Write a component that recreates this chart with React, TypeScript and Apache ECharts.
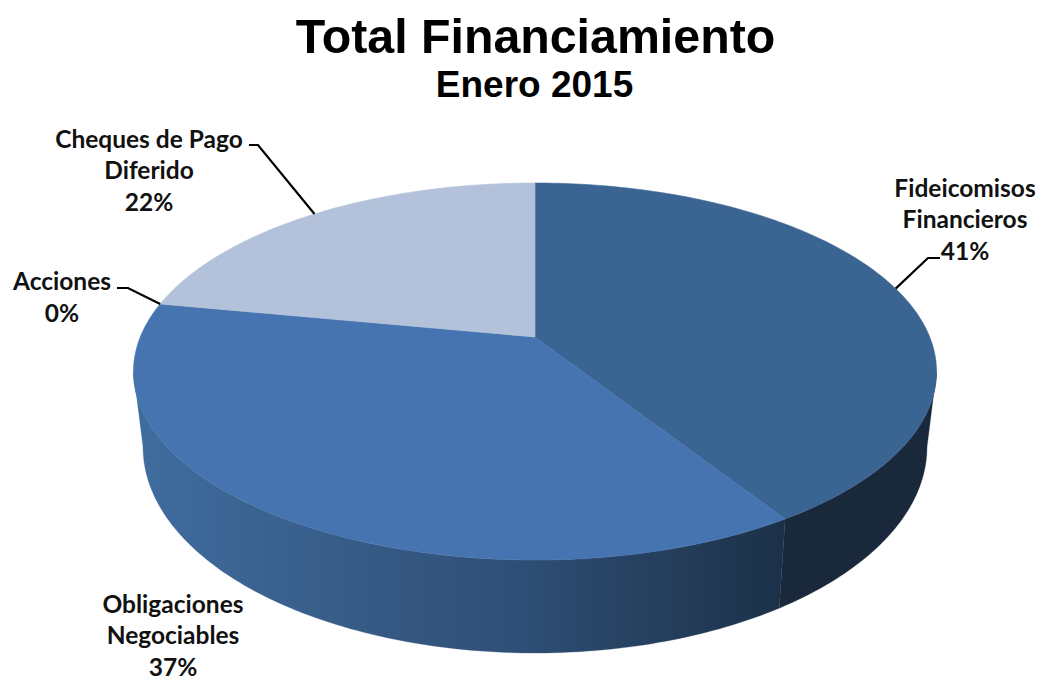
import React, { useEffect, useRef } from "react";
import * as echarts from "echarts";

// Data
const sliceNames = ["Fideicomisos\nFinancieros", "Obligaciones\nNegociables", "Acciones", "Cheques de Pago\nDiferido"];
const sliceValues = [41, 37, 0, 22];
const titleText = "Total Financiamiento";
const subtitleText = "Enero 2015";

// Styling and geometry of the 3D projection
const topColors = ["#3a6492", "#4674b0", "#4674b0", "#b3c2da"];
const W = 1040;
const H = 679;
const TOP = { cx: 535, cy: 371.5, rx: 401.5, ry: 188.5 };
const BOTTOM = { cx: 535, cy: 447, rx: 392, ry: 206 };
const TILT = -0.183; // shifts the apex of the slices towards the back of the ellipse
const LINE_HEIGHT = 31.5;
const labelPlaces = [
  { x: 965, y: 187, elbow: [[928, 258], [940, 258]] },
  { x: 173, y: 603, elbow: null },
  { x: 62, y: 280.5, elbow: [[128, 288], [117, 288]] },
  { x: 149, y: 138, elbow: [[258, 145], [249, 145]] },
];

const total = sliceValues.reduce((a, b) => a + b, 0);
const TAU = Math.PI * 2;

// Disk position -> normalised ellipse coordinates, through a perspective map
function project(angle: number, radius = 1) {
  const X = radius * Math.sin(angle);
  const Y = -radius * Math.cos(angle);
  const d = 1 + TILT * Y;
  return { u: (X * Math.sqrt(1 - TILT * TILT)) / d, v: (Y + TILT) / d };
}
function onEllipse(e: typeof TOP, angle: number, radius = 1): number[] {
  const p = project(angle, radius);
  return [e.cx + e.rx * p.u, e.cy + e.ry * p.v];
}
function sample(from: number, to: number) {
  const out: number[] = [];
  const n = Math.max(2, Math.ceil((to - from) / (Math.PI / 180)));
  for (let i = 0; i <= n; i++) out.push(from + ((to - from) * i) / n);
  return out;
}
function range(index: number) {
  const before = sliceValues.slice(0, index).reduce((a, b) => a + b, 0);
  return [(before / total) * TAU, ((before + sliceValues[index]) / total) * TAU];
}

const frontStart = Math.acos(TILT); // angle where the rim reaches its widest point on the right
const frontEnd = TAU - frontStart;

const wallFills: any[] = [
  "#19283b",
  {
    type: "linear",
    global: true,
    x: 140,
    y: 0,
    x2: 782,
    y2: 0,
    colorStops: [
      { offset: 0, color: "#3f6c9e" },
      { offset: 0.3, color: "#385d89" },
      { offset: 0.6, color: "#2e4e75" },
      { offset: 0.85, color: "#233c58" },
      { offset: 1, color: "#1c3149" },
    ],
  },
  "#2e4e75",
  "#3f6c9e",
];

const data = sliceValues.map((v, i) => ({ value: [i, v], name: sliceNames[i] }));

function renderWall(_: any, api: any) {
  const i = api.value(0);
  const [a0, a1] = range(i);
  const from = Math.max(a0, frontStart);
  const to = Math.min(a1, frontEnd);
  if (to <= from) return { type: "group", children: [] };
  const angles = sample(from, to);
  const points = [
    ...angles.map((a) => onEllipse(TOP, a)),
    ...angles.slice().reverse().map((a) => onEllipse(BOTTOM, a)),
  ];
  return { type: "polygon", shape: { points }, style: { fill: wallFills[i], stroke: wallFills[i], lineWidth: 0.3 } };
}

function renderTop(_: any, api: any) {
  const i = api.value(0);
  const [a0, a1] = range(i);
  if (a1 <= a0) return { type: "group", children: [] };
  const points = [onEllipse(TOP, 0, 0), ...sample(a0, a1).map((a) => onEllipse(TOP, a))];
  return { type: "polygon", shape: { points }, style: { fill: topColors[i], stroke: topColors[i], lineWidth: 0.6 } };
}

function renderLabel(_: any, api: any) {
  const i = api.value(0);
  const [a0, a1] = range(i);
  const place = labelPlaces[i];
  const children: any[] = [];
  if (place.elbow) {
    const anchor = onEllipse(TOP, (a0 + a1) / 2);
    children.push({
      type: "polyline",
      shape: { points: [anchor, ...place.elbow] },
      style: { stroke: "#000000", lineWidth: 2.2, fill: "none" },
    });
  }
  const lines = `${sliceNames[i]}\n${api.value(1)}%`.split("\n");
  lines.forEach((line, k) => {
    children.push({
      type: "text",
      x: place.x,
      y: place.y + k * LINE_HEIGHT,
      style: {
        text: line,
        fontFamily: "Lato",
        fontWeight: "bold",
        fontSize: 24.5,
        fill: "#111111",
        align: "center",
        verticalAlign: "middle",
      },
    });
  });
  return { type: "group", children };
}

export default function App() {
  const ref = useRef<HTMLDivElement>(null);
  useEffect(() => {
    const chart = echarts.init(ref.current!, null, { renderer: "svg", width: W, height: H });
    chart.setOption({
      animation: false,
      backgroundColor: "#ffffff",
      title: [
        {
          text: titleText,
          left: 535.5,
          top: 12,
          padding: 0,
          textAlign: "center",
          textStyle: { fontFamily: "Liberation Sans", fontWeight: "bold", fontSize: 48.3, color: "#000000" },
        },
        {
          text: subtitleText,
          left: 534.5,
          top: 66,
          padding: 0,
          textAlign: "center",
          textStyle: { fontFamily: "Liberation Sans", fontWeight: "bold", fontSize: 37, color: "#000000" },
        },
      ],
      series: [
        { type: "custom", coordinateSystem: "none", silent: true, z: 1, data, renderItem: renderWall },
        { type: "custom", coordinateSystem: "none", silent: true, z: 2, data, renderItem: renderTop },
        { type: "custom", coordinateSystem: "none", silent: true, z: 3, data, renderItem: renderLabel },
      ],
    });
    return () => chart.dispose();
  }, []);
  return <div ref={ref} style={{ position: "fixed", left: 0, top: 0, width: W, height: H, background: "#ffffff" }} />;
}
